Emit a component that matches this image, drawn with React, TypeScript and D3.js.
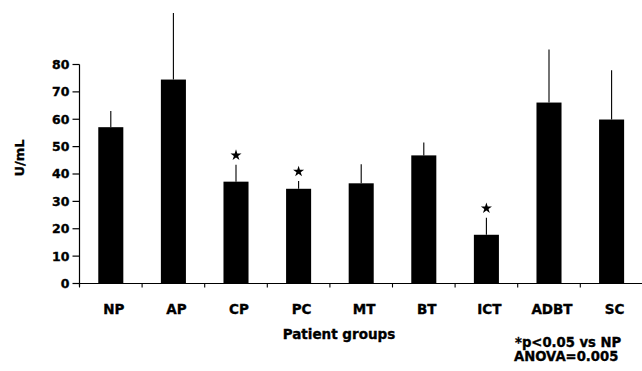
import React from "react";
import * as d3 from "d3";

const categories = ["NP", "AP", "CP", "PC", "MT", "BT", "ICT", "ADBT", "SC"];
const means = [57.1, 74.5, 37.2, 34.6, 36.6, 46.8, 17.8, 66.1, 59.9];
const errTops = [63.0, 98.8, 43.4, 37.4, 43.6, 51.5, 24.0, 85.5, 77.9];
const significant = ["CP", "PC", "ICT"];
const yTicks = [0, 10, 20, 30, 40, 50, 60, 70, 80];

const W = 642;
const H = 371;
const left = 79.5;
const right = 642.9;
const y0 = 283.5;
const yTop = 64.5;
const FONT = "'DejaVu Sans', sans-serif";
const textStyle = {
  fontFamily: FONT,
  fontWeight: "bold" as const,
  fill: "#000",
  stroke: "#000",
  strokeWidth: 0.35,
};

export default function App() {
  const x = d3
    .scaleBand<string>()
    .domain(categories)
    .range([left, right])
    .paddingInner(0.6)
    .paddingOuter(0.3);
  const y = d3.scaleLinear().domain([0, 80]).range([y0, yTop]);
  const step = x.step();
  const boundaries = d3.range(categories.length).map((i) => left + i * step);
  const star = d3.symbol().type(d3.symbolStar).size(38)();

  return (
    <svg
      width={W}
      height={H}
      style={{ position: "absolute", left: 0, top: 0, background: "#fff" }}
    >
      {categories.map((c, i) => {
        const bx = x(c)!;
        const cx = bx + x.bandwidth() / 2;
        return (
          <g key={c}>
            <line
              x1={cx}
              x2={cx}
              y1={y(means[i])}
              y2={y(errTops[i])}
              stroke="#000"
              strokeWidth={1.1}
            />
            <rect
              x={bx}
              y={y(means[i])}
              width={x.bandwidth()}
              height={y0 - y(means[i])}
              fill="#000"
            />
            {significant.includes(c) && (
              <path
                d={star!}
                transform={`translate(${cx},${y(errTops[i]) - 9.5})`}
                fill="#000"
              />
            )}
            <text x={cx + 3} y={314} textAnchor="middle" fontSize={13.5} style={textStyle}>
              {c}
            </text>
          </g>
        );
      })}

      <line x1={left} x2={left} y1={yTop} y2={y0 + 3} stroke="#000" strokeWidth={1.2} />
      {yTicks.map((t) => (
        <g key={t}>
          <line x1={left - 7} x2={left} y1={y(t)} y2={y(t)} stroke="#000" strokeWidth={1.2} />
          <text
            x={left - 10}
            y={y(t)}
            dy="0.35em"
            textAnchor="end"
            fontSize={12.5}
            style={textStyle}
          >
            {t}
          </text>
        </g>
      ))}

      <line x1={left} x2={W} y1={y0} y2={y0} stroke="#000" strokeWidth={1.2} />
      {boundaries.map((b, i) => (
        <line key={i} x1={b} x2={b} y1={y0} y2={y0 + 4} stroke="#000" strokeWidth={1.1} />
      ))}

      <text
        transform={`translate(24,158) rotate(-90)`}
        textAnchor="middle"
        fontSize={13}
        style={textStyle}
      >
        U/mL
      </text>
      <text x={339} y={338.5} textAnchor="middle" fontSize={13.5} style={textStyle}>
        Patient groups
      </text>

      <text x={515} y={347} fontSize={13.2} style={textStyle}>
        *p&lt;0.05 vs NP
      </text>
      <text x={514} y={361} fontSize={13.2} style={textStyle}>
        ANOVA=0.005
      </text>
    </svg>
  );
}
